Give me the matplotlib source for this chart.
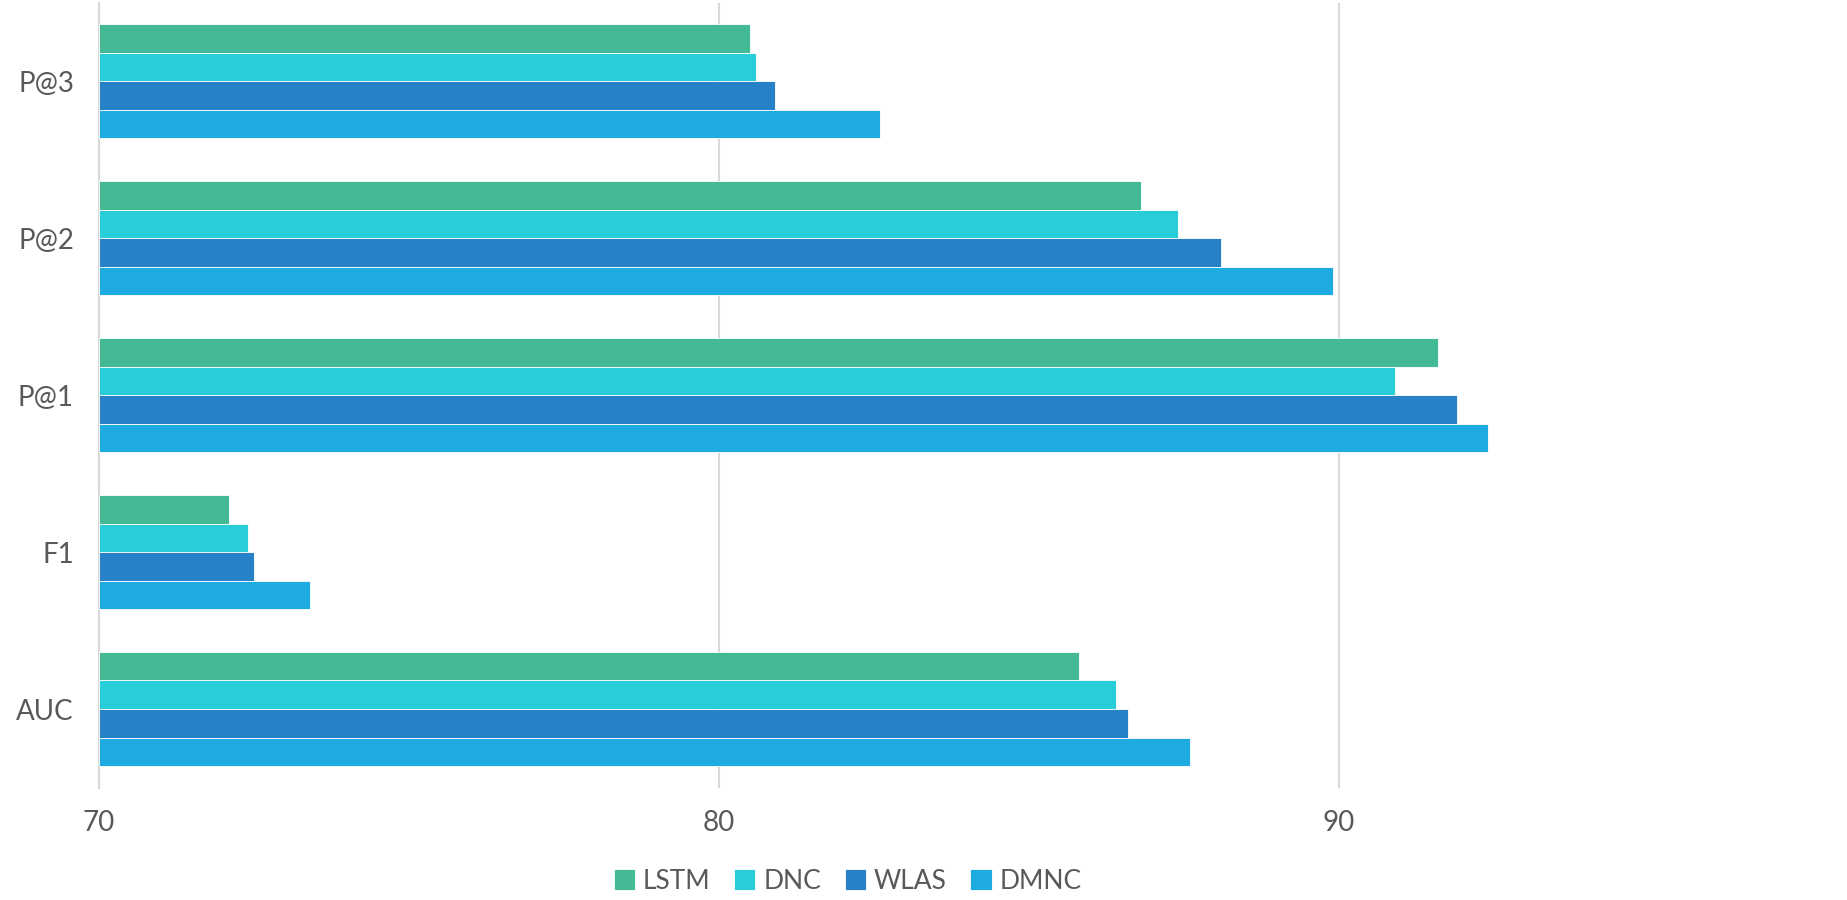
import numpy as np
import matplotlib.pyplot as plt

plt.rcParams['font.family'] = ['Lato', 'DejaVu Sans']

# metrics, top to bottom
metrics = ["P@3", "P@2", "P@1", "F1", "AUC"]
models = ["LSTM", "DNC", "WLAS", "DMNC"]

lstm = [80.5, 86.8, 91.6, 72.1, 85.8]
dnc = [80.6, 87.4, 90.9, 72.4, 86.4]
wlas = [80.9, 88.1, 91.9, 72.5, 86.6]
dmnc = [82.6, 89.9, 92.4, 73.4, 87.6]

colors = ["#44B995", "#28CDD7", "#2681C6", "#1EABE2"]
text_col = "#595959"
grid_col = "#D9D9D9"

fig = plt.figure(figsize=(18.47, 9), dpi=100)
ax = fig.add_axes([99 / 1847, 0.125, 1 - 99 / 1847, 0.872])

y = np.arange(len(metrics))
h = 0.727 / 4
for k, (vals, name) in enumerate(zip([lstm, dnc, wlas, dmnc], models)):
    off = (k - 1.5) * h
    ax.barh(y + off, np.array(vals) - 70, height=h, left=70, color=colors[k],
            edgecolor="white", linewidth=0.6, label=name, zorder=3)

ax.set_xlim(70, 70 + (1847 - 99) / 62)
ax.set_ylim(4.5, -0.5)
ax.set_xticks([70, 80, 90])
ax.set_yticks(y)
ax.set_yticklabels(metrics)
ax.grid(axis="x", color=grid_col, linewidth=1.5, zorder=0)
for s in ["top", "right", "bottom"]:
    ax.spines[s].set_visible(False)
ax.spines["left"].set_color(grid_col)
ax.spines["left"].set_linewidth(1.5)
ax.tick_params(axis="y", length=0, pad=18, labelsize=20, labelcolor=text_col)
ax.tick_params(axis="x", length=0, pad=16, labelsize=20, labelcolor=text_col)

fig.legend(loc="center", bbox_to_anchor=(0.459, 0.021), ncol=4, frameon=False,
           fontsize=19, labelcolor=text_col, handlelength=0.8, handleheight=0.8,
           handletextpad=0.3, columnspacing=0.9)

fig.savefig("out.png", dpi=100)
